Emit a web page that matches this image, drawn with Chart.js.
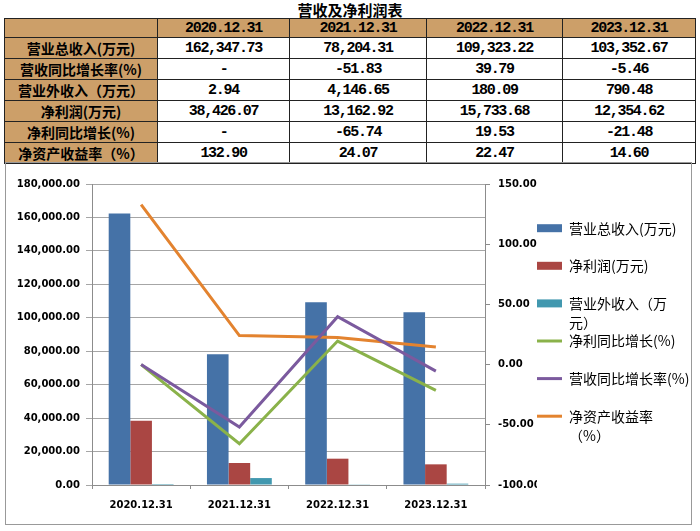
<!DOCTYPE html>
<html lang="zh-CN">
<head>
<meta charset="utf-8">
<title>营收及净利润表</title>
<script src="https://cdn.jsdelivr.net/npm/chart.js@4.4.1/dist/chart.umd.min.js"></script>
<style>
    body {
        margin: 0;
        width: 700px;
        height: 531px;
        position: relative;
        overflow: hidden;
        background: #fff;
    }
    .title {
        position: absolute;
        left: 0;
        top: 0;
        width: 700px;
        text-align: center;
        font: bold 15px/20px 'Noto Sans CJK SC', sans-serif;
        color: #000;
    }
    table {
        position: absolute;
        left: 4px;
        top: 18px;
        width: 691px;
        border-collapse: collapse;
        table-layout: fixed;
    }
    tr {
        height: 19px;
    }
    th, td {
        border: 1px solid #222;
        padding: 0;
        text-align: center;
        vertical-align: middle;
        line-height: 17px;
        color: #000;
    }
    th, td.num {
        font: bold 15px 'Liberation Mono', monospace;
        letter-spacing: -1.3px;
    }
    th, td.name {
        background: #cc9f69;
    }
    td.name {
        font: bold 14px 'Noto Sans CJK SC', sans-serif;
    }
    .frame {
        position: absolute;
        left: 5px;
        top: 162px;
        width: 687px;
        height: 363px;
        box-sizing: border-box;
        border: 1px solid #999;
    }
    #chart {
        position: absolute;
        left: 0;
        top: 0;
    }
</style>
</head>
<body>
<div class="title">营收及净利润表</div>
<table id="tbl">
    <colgroup>
        <col style="width:153px"><col style="width:132px"><col style="width:137px"><col style="width:136px"><col style="width:133px">
    </colgroup>
    <thead><tr id="head"><th></th></tr></thead>
    <tbody id="body"></tbody>
</table>
<div class="frame"><canvas id="chart" width="684" height="360"></canvas></div>

<script>
const categories = ['2020.12.31', '2021.12.31', '2022.12.31', '2023.12.31'];

// values in 万元
const totalRevenue = [162347.73, 78204.31, 109323.22, 103352.67];
const netProfit = [38426.07, 13162.92, 15733.68, 12354.62];
const nonOperatingIncome = [2.94, 4146.65, 180.09, 790.48];

// values in %, null = "-" in the table
const revenueGrowth = [null, -51.83, 39.79, -5.46];
const profitGrowth = [null, -65.74, 19.53, -21.48];
const roe = [132.90, 24.07, 22.47, 14.60];

const rowNames = ['营业总收入(万元)', '营收同比增长率(%)', '营业外收入（万元）', '净利润(万元)', '净利同比增长(%)', '净资产收益率（%）'];
const rowValues = [totalRevenue, revenueGrowth, nonOperatingIncome, netProfit, profitGrowth, roe];

// legend text as it wraps in the original
const legendLines = [
    ['营业总收入(万元)'],
    ['净利润(万元)'],
    ['营业外收入（万', '元）'],
    ['净利同比增长(%)'],
    ['营收同比增长率(%)'],
    ['净资产收益率', '（%）'],
];

const fmt = (v) => v.toLocaleString('en-US', { minimumFractionDigits: 2, maximumFractionDigits: 2 });

// table
const head = document.getElementById('head');
categories.forEach((c) => {
    const th = document.createElement('th');
    th.textContent = c;
    head.appendChild(th);
});
const body = document.getElementById('body');
rowNames.forEach((name, r) => {
    const tr = document.createElement('tr');
    const td = document.createElement('td');
    td.className = 'name';
    td.textContent = name;
    tr.appendChild(td);
    rowValues[r].forEach((v) => {
        const cell = document.createElement('td');
        cell.className = 'num';
        cell.textContent = v === null ? '-' : fmt(v);
        tr.appendChild(cell);
    });
    body.appendChild(tr);
});

// chart
const tickFont = { family: "'DejaVu Sans', sans-serif", size: 10, weight: 'bold' };
const axisGray = '#8c8c8c';
// the spreadsheet plots "-" as zero
const zeroed = (arr) => arr.map((v) => (v === null ? 0 : v));

const ctx = document.getElementById('chart').getContext('2d');
new Chart(ctx, {
    type: 'bar',
    data: {
        labels: categories,
        datasets: [
            {
                type: 'bar',
                label: '营业总收入(万元)',
                data: totalRevenue,
                backgroundColor: '#4572a7',
                yAxisID: 'y',
                order: 3,
            },
            {
                type: 'bar',
                label: '净利润(万元)',
                data: netProfit,
                backgroundColor: '#aa4643',
                yAxisID: 'y',
                order: 3,
            },
            {
                type: 'bar',
                label: '营业外收入（万元）',
                data: nonOperatingIncome,
                backgroundColor: '#4198af',
                yAxisID: 'y',
                order: 3,
            },
            {
                type: 'line',
                label: '净利同比增长(%)',
                data: zeroed(profitGrowth),
                borderColor: '#8ab24a',
                backgroundColor: '#8ab24a',
                yAxisID: 'y1',
                order: 1,
            },
            {
                type: 'line',
                label: '营收同比增长率(%)',
                data: zeroed(revenueGrowth),
                borderColor: '#7b5a9e',
                backgroundColor: '#7b5a9e',
                yAxisID: 'y1',
                order: 0,
            },
            {
                type: 'line',
                label: '净资产收益率（%）',
                data: roe,
                borderColor: '#e3832f',
                backgroundColor: '#e3832f',
                yAxisID: 'y1',
                order: 1,
            },
        ],
    },
    options: {
        responsive: false,
        animation: false,
        events: [],
        layout: {
            padding: { left: 0, top: 21, right: 0, bottom: 0 },
        },
        datasets: {
            bar: {
                categoryPercentage: 0.66,
                barPercentage: 1,
                borderWidth: 0,
            },
            line: {
                borderWidth: 3,
                pointRadius: 0,
                tension: 0,
            },
        },
        scales: {
            x: {
                grid: {
                    offset: true,
                    drawOnChartArea: false,
                    tickLength: 4,
                    color: axisGray,
                },
                border: { color: axisGray },
                ticks: { font: tickFont, color: '#000', padding: 10, maxRotation: 0 },
                afterFit: (scale) => {
                    scale.height = 38;
                },
            },
            y: {
                position: 'left',
                min: 0,
                max: 180000,
                ticks: {
                    stepSize: 20000,
                    font: tickFont,
                    color: '#000',
                    padding: 6,
                    callback: (v) => fmt(v),
                },
                grid: { color: '#a6a6a6', tickLength: 6 },
                border: { color: axisGray },
                afterFit: (scale) => {
                    scale.width = 86;
                },
            },
            y1: {
                position: 'right',
                min: -100,
                max: 150,
                ticks: {
                    stepSize: 50,
                    font: tickFont,
                    color: '#000',
                    padding: 8,
                    callback: (v) => v.toFixed(2),
                },
                grid: { drawOnChartArea: false, color: axisGray, tickLength: 5 },
                border: { color: axisGray },
                afterFit: (scale) => {
                    // wide enough that the labels are not clipped
                    scale.width = 52;
                },
            },
        },
        plugins: {
            tooltip: { enabled: false },
            legend: {
                position: 'right',
                fullSize: false,
                align: 'center',
                maxWidth: 153,
                labels: {
                    usePointStyle: true,
                    pointStyleWidth: 26,
                    boxHeight: 8,
                    padding: -1,
                    color: '#000',
                    font: { family: "'Noto Sans CJK SC', sans-serif", size: 14, lineHeight: 19.3 / 14 },
                    generateLabels: (chart) =>
                        chart.data.datasets.map((ds, i) => {
                            const isLine = ds.type === 'line';
                            // every entry gets two lines so they are spaced evenly
                            const text = legendLines[i].length > 1 ? legendLines[i] : [legendLines[i][0], ''];
                            return {
                                text: text,
                                fillStyle: ds.backgroundColor,
                                strokeStyle: isLine ? ds.borderColor : ds.backgroundColor,
                                lineWidth: isLine ? 3 : 0,
                                pointStyle: isLine ? 'line' : 'rect',
                                fontColor: '#000',
                                hidden: false,
                                datasetIndex: i,
                            };
                        }),
                },
            },
        },
    },
});
</script>
</body>
</html>
